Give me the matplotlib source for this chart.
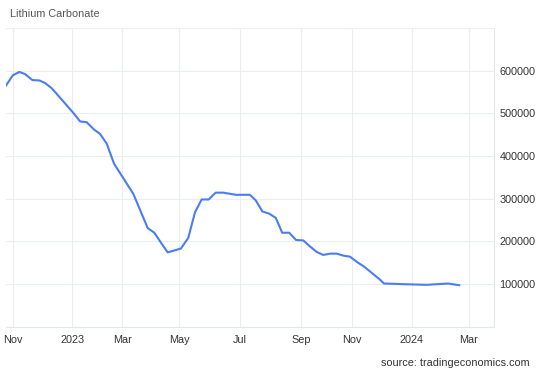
import matplotlib
matplotlib.use("Agg")
import matplotlib.pyplot as plt
from matplotlib.ticker import FixedLocator, NullFormatter

# x: trading-day index since 1 Nov 2022 (the chart's x axis skips non-trading days)
trade_idx = [-5.1, -0.2, 4.6, 8.7, 14.0, 19.1, 23.2, 28.0, 43.7, 48.6, 53.4, 58.7,
             63.0, 67.9, 73.2, 87.2, 97.6, 102.4, 107.8, 112.1, 121.7, 127.0, 131.9,
             136.7, 141.8, 146.9, 152.4, 161.4, 171.7, 175.9, 180.7, 185.5, 190.4,
             195.1, 200.2, 205.1, 210.4, 215.2, 220.1, 224.9, 229.7, 234.6, 239.9,
             244.2, 249.5, 254.3, 266.0, 268.8, 287.7, 299.8, 315.4, 323.4]
price = [565000, 589000, 597000, 592000, 578000, 577000, 571000, 559000, 501000,
         481000, 479000, 462000, 452000, 429000, 382000, 311000, 231000, 220000,
         194000, 174000, 183000, 208000, 268000, 298000, 298000, 314000, 314000,
         309000, 309000, 296000, 270000, 265000, 255000, 220000, 220000, 203000,
         202000, 188000, 175000, 168000, 171000, 171000, 166000, 164000, 151000,
         141000, 110000, 101000, 99000, 98000, 101000, 97000]

x_tick_pos = [0, 42.8, 79.0, 120.3, 164.5, 208.7, 245.7, 289.1, 330.4]
x_tick_labels = ["Nov", "2023", "Mar", "May", "Jul", "Sep", "Nov", "2024", "Mar"]
y_ticks = [100000, 200000, 300000, 400000, 500000, 600000]
y_tick_labels = ["100000", "200000", "300000", "400000", "500000", "600000"]

plt.rcParams["font.family"] = ["Liberation Sans", "DejaVu Sans"]

fig = plt.figure(figsize=(5.38, 3.73), dpi=100)
ax = fig.add_axes([6 / 538, 1 - 326.6 / 373, (494 - 6) / 538, (326.6 - 28) / 373])

grid_c = "#ebedf0"
ax.plot(trade_idx, price, color="#4a7cf6", linewidth=1.5, solid_joinstyle="round")

ax.set_xlim(-5.1, 348.6)
ax.set_ylim(0, 700000)

ax.set_xticks(x_tick_pos)
ax.set_xticklabels(x_tick_labels)
ax.yaxis.set_major_locator(FixedLocator([0] + y_ticks + [700000]))
ax.set_yticklabels([""] + y_tick_labels + [""])
ax.yaxis.tick_right()

ax.grid(True, color=grid_c, linewidth=0.8)
ax.set_axisbelow(True)
for s in ["left", "top"]:
    ax.spines[s].set_visible(False)
for s in ["right", "bottom"]:
    ax.spines[s].set_color("#e3e6ea")
    ax.spines[s].set_linewidth(0.8)

ax.tick_params(axis="both", length=0, labelsize=7.8, colors="#333333")
ax.tick_params(axis="x", pad=6)
ax.tick_params(axis="y", pad=4)

fig.text(10 / 538, 1 - 14 / 373, "Lithium Carbonate", fontsize=7.8, color="#555555",
         ha="left", va="center")
fig.text(530 / 538, 1 - 363 / 373, "source: tradingeconomics.com", fontsize=7.8,
         color="#333333", ha="right", va="center")

fig.savefig("out.png", dpi=100)
